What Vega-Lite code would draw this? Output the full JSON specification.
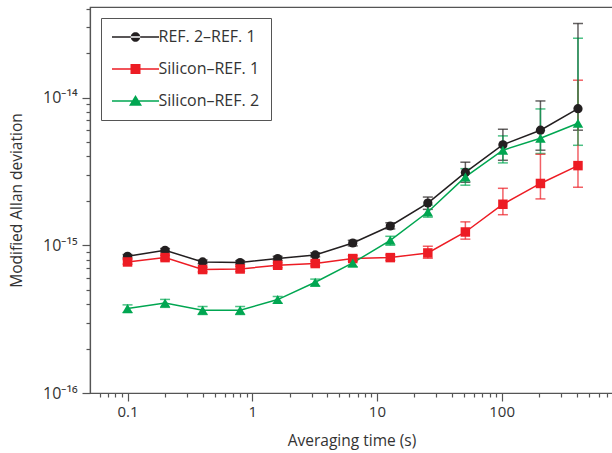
{
  "$schema": "https://vega.github.io/schema/vega-lite/v6.json",
  "width": 523,
  "height": 386,
  "autosize": {"type": "none"},
  "padding": {"left": 90, "top": 7, "right": 0, "bottom": 60},
  "background": "white",
  "config": {
    "font": "Open Sans",
    "view": {"stroke": "#555", "strokeWidth": 1.2},
    "axis": {
      "grid": false,
      "domainColor": "#555",
      "domainWidth": 1.2,
      "tickColor": "#555",
      "tickWidth": 1.2,
      "labelColor": "#333",
      "titleColor": "#333",
      "labelFont": "Open Sans",
      "titleFont": "Open Sans",
      "labelFontSize": 15,
      "titleFontSize": 15.5,
      "titleFontWeight": "normal",
      "labelOverlap": false,
      "labelFlush": false
    },
    "axisY": {"labelFontSize": 16}
  },
  "data": {
    "values": [
      {"s": "REF. 2–REF. 1", "t": 0.1, "v": 8.42e-16, "lo": 8.2e-16, "hi": 8.65e-16},
      {"s": "REF. 2–REF. 1", "t": 0.2, "v": 9.25e-16, "lo": 9.0e-16, "hi": 9.5e-16},
      {"s": "REF. 2–REF. 1", "t": 0.4, "v": 7.71e-16, "lo": 7.5e-16, "hi": 7.95e-16},
      {"s": "REF. 2–REF. 1", "t": 0.8, "v": 7.64e-16, "lo": 7.45e-16, "hi": 7.85e-16},
      {"s": "REF. 2–REF. 1", "t": 1.6, "v": 8.13e-16, "lo": 7.9e-16, "hi": 8.4e-16},
      {"s": "REF. 2–REF. 1", "t": 3.2, "v": 8.6e-16, "lo": 8.35e-16, "hi": 8.9e-16},
      {"s": "REF. 2–REF. 1", "t": 6.4, "v": 1.036e-15, "lo": 0.99e-15, "hi": 1.08e-15},
      {"s": "REF. 2–REF. 1", "t": 12.8, "v": 1.35e-15, "lo": 1.29e-15, "hi": 1.42e-15},
      {"s": "REF. 2–REF. 1", "t": 25.6, "v": 1.93e-15, "lo": 1.75e-15, "hi": 2.12e-15},
      {"s": "REF. 2–REF. 1", "t": 51.2, "v": 3.11e-15, "lo": 2.67e-15, "hi": 3.65e-15},
      {"s": "REF. 2–REF. 1", "t": 102.4, "v": 4.79e-15, "lo": 3.76e-15, "hi": 6.1e-15},
      {"s": "REF. 2–REF. 1", "t": 204.8, "v": 6.01e-15, "lo": 4.4e-15, "hi": 9.48e-15},
      {"s": "REF. 2–REF. 1", "t": 409.6, "v": 8.4e-15, "lo": 6.01e-15, "hi": 3.17e-14},
      {"s": "Silicon–REF. 1", "t": 0.1, "v": 7.71e-16, "lo": 7.45e-16, "hi": 8.0e-16},
      {"s": "Silicon–REF. 1", "t": 0.2, "v": 8.25e-16, "lo": 7.95e-16, "hi": 8.55e-16},
      {"s": "Silicon–REF. 1", "t": 0.4, "v": 6.85e-16, "lo": 6.6e-16, "hi": 7.1e-16},
      {"s": "Silicon–REF. 1", "t": 0.8, "v": 6.91e-16, "lo": 6.65e-16, "hi": 7.2e-16},
      {"s": "Silicon–REF. 1", "t": 1.6, "v": 7.32e-16, "lo": 7.05e-16, "hi": 7.6e-16},
      {"s": "Silicon–REF. 1", "t": 3.2, "v": 7.52e-16, "lo": 7.25e-16, "hi": 7.8e-16},
      {"s": "Silicon–REF. 1", "t": 6.4, "v": 8.13e-16, "lo": 7.8e-16, "hi": 8.5e-16},
      {"s": "Silicon–REF. 1", "t": 12.8, "v": 8.25e-16, "lo": 7.9e-16, "hi": 8.6e-16},
      {"s": "Silicon–REF. 1", "t": 25.6, "v": 8.87e-16, "lo": 8.17e-16, "hi": 9.85e-16},
      {"s": "Silicon–REF. 1", "t": 51.2, "v": 1.23e-15, "lo": 1.1e-15, "hi": 1.44e-15},
      {"s": "Silicon–REF. 1", "t": 102.4, "v": 1.895e-15, "lo": 1.61e-15, "hi": 2.43e-15},
      {"s": "Silicon–REF. 1", "t": 204.8, "v": 2.62e-15, "lo": 2.06e-15, "hi": 4.13e-15},
      {"s": "Silicon–REF. 1", "t": 409.6, "v": 3.46e-15, "lo": 2.47e-15, "hi": 1.31e-14},
      {"s": "Silicon–REF. 2", "t": 0.1, "v": 3.73e-16, "lo": 3.5e-16, "hi": 3.95e-16},
      {"s": "Silicon–REF. 2", "t": 0.2, "v": 4.07e-16, "lo": 3.8e-16, "hi": 4.3e-16},
      {"s": "Silicon–REF. 2", "t": 0.4, "v": 3.63e-16, "lo": 3.4e-16, "hi": 3.85e-16},
      {"s": "Silicon–REF. 2", "t": 0.8, "v": 3.63e-16, "lo": 3.4e-16, "hi": 3.85e-16},
      {"s": "Silicon–REF. 2", "t": 1.6, "v": 4.29e-16, "lo": 4.05e-16, "hi": 4.5e-16},
      {"s": "Silicon–REF. 2", "t": 3.2, "v": 5.62e-16, "lo": 5.3e-16, "hi": 5.9e-16},
      {"s": "Silicon–REF. 2", "t": 6.4, "v": 7.59e-16, "lo": 7.15e-16, "hi": 8.0e-16},
      {"s": "Silicon–REF. 2", "t": 12.8, "v": 1.08e-15, "lo": 1.0e-15, "hi": 1.15e-15},
      {"s": "Silicon–REF. 2", "t": 25.6, "v": 1.68e-15, "lo": 1.55e-15, "hi": 1.87e-15},
      {"s": "Silicon–REF. 2", "t": 51.2, "v": 2.9e-15, "lo": 2.55e-15, "hi": 3.3e-15},
      {"s": "Silicon–REF. 2", "t": 102.4, "v": 4.4e-15, "lo": 3.61e-15, "hi": 5.5e-15},
      {"s": "Silicon–REF. 2", "t": 204.8, "v": 5.3e-15, "lo": 4.18e-15, "hi": 8.37e-15},
      {"s": "Silicon–REF. 2", "t": 409.6, "v": 6.7e-15, "lo": 4.75e-15, "hi": 2.52e-14}
    ]
  },
  "encoding": {
    "x": {
      "field": "t",
      "type": "quantitative",
      "scale": {"type": "log", "domain": [0.05, 782], "nice": false},
      "axis": {
        "title": "Averaging time (s)",
        "values": [0.06, 0.07, 0.08, 0.09, 0.1, 0.2, 0.3, 0.4, 0.5, 0.6, 0.7, 0.8, 0.9, 1, 2, 3, 4, 5, 6, 7, 8, 9, 10, 20, 30, 40, 50, 60, 70, 80, 90, 100, 200, 300, 400, 500, 600, 700],
        "labelExpr": "abs(log(datum.value)/LN10 - round(log(datum.value)/LN10)) < 0.001 ? format(datum.value, '~g') : ''",
        "tickSize": {"condition": {"test": "abs(log(datum.value)/LN10 - round(log(datum.value)/LN10)) < 0.001", "value": 8}, "value": 4},
        "labelPadding": 3,
        "titlePadding": 14
      }
    },
    "y": {
      "field": "v",
      "type": "quantitative",
      "scale": {"type": "log", "domain": [1e-16, 4.1e-14], "nice": false},
      "axis": {
        "title": "Modified Allan deviation",
        "values": [1e-16, 2e-16, 3e-16, 4e-16, 5e-16, 6e-16, 7e-16, 8e-16, 9e-16, 1e-15, 2e-15, 3e-15, 4e-15, 5e-15, 6e-15, 7e-15, 8e-15, 9e-15, 1e-14, 2e-14, 3e-14, 4e-14],
        "labelExpr": "abs(datum.value/1e-14-1) < 1e-6 ? '10⁻¹⁴' : abs(datum.value/1e-15-1) < 1e-6 ? '10⁻¹⁵' : abs(datum.value/1e-16-1) < 1e-6 ? '10⁻¹⁶' : ''",
        "tickSize": {"condition": {"test": "abs(log(datum.value)/LN10 - round(log(datum.value)/LN10)) < 0.001", "value": 8}, "value": 4},
        "labelPadding": 5,
        "titlePadding": 18
      }
    },
    "color": {
      "field": "s",
      "type": "nominal",
      "scale": {
        "domain": ["REF. 2–REF. 1", "Silicon–REF. 1", "Silicon–REF. 2"],
        "range": ["#231f20", "#ed1c24", "#00a651"]
      },
      "legend": {
        "title": null,
        "orient": "none",
        "legendX": 11,
        "legendY": 11,
        "padding": 11,
        "strokeColor": "#555",
        "fillColor": "white",
        "labelFont": "Open Sans",
        "labelFontSize": 16,
        "labelColor": "#333",
        "symbolSize": 100,
        "symbolStrokeWidth": 0,
        "symbolOffset": 15.5,
        "labelOffset": 15,
        "rowPadding": 16,
        "encode": {
          "symbols": {
            "update": {
              "shape": {"signal": "datum.value === 'REF. 2–REF. 1' ? 'M-4.7,-0.14H4.7V0.14H-4.7ZM-0.95,0A0.95,0.95,0,1,0,0.95,0A0.95,0.95,0,1,0,-0.95,0Z' : datum.value === 'Silicon–REF. 1' ? 'M-4.7,-0.14H4.7V0.14H-4.7ZM-1,-1H1V1H-1Z' : 'M-4.7,-0.14H4.7V0.14H-4.7ZM0,-1.2L1.3,0.95H-1.3Z'"},
              "fill": {"scale": "color", "field": "value"},
              "stroke": {"value": "transparent"},
              "opacity": {"value": 1},
              "fillOpacity": {"value": 1}
            }
          }
        }
      }
    }
  },
  "layer": [
    {
      "mark": {"type": "errorbar", "ticks": {"size": 10, "opacity": 0.7}, "rule": {"opacity": 0.7}, "thickness": 1.5},
      "encoding": {
        "y": {"field": "lo", "type": "quantitative", "scale": {"type": "log", "domain": [1e-16, 4.1e-14], "nice": false}, "title": "Modified Allan deviation"},
        "y2": {"field": "hi"}
      }
    },
    {
      "mark": {"type": "line", "strokeWidth": 1.5}
    },
    {
      "transform": [{"filter": {"field": "s", "equal": "REF. 2–REF. 1"}}],
      "mark": {"type": "point", "filled": true, "opacity": 1, "shape": "circle", "size": 85}
    },
    {
      "transform": [{"filter": {"field": "s", "equal": "Silicon–REF. 1"}}],
      "mark": {"type": "point", "filled": true, "opacity": 1, "shape": "square", "size": 90}
    },
    {
      "transform": [{"filter": {"field": "s", "equal": "Silicon–REF. 2"}}],
      "mark": {"type": "point", "filled": true, "opacity": 1, "shape": "triangle-up", "size": 110}
    }
  ]
}
